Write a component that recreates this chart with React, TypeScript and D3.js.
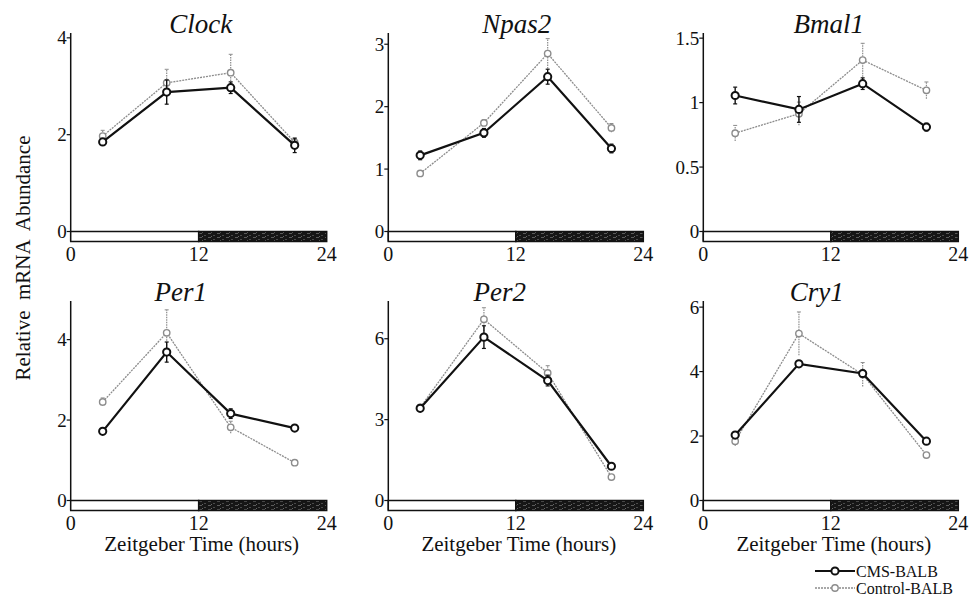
import React from "react";
import * as d3 from "d3";

const ZT = [3, 9, 15, 21];
const GENES = ["Clock", "Npas2", "Bmal1", "Per1", "Per2", "Cry1"];

const CMS_VALUES = [
  [1.85, 2.88, 2.97, 1.78],
  [1.22, 1.58, 2.48, 1.33],
  [1.055, 0.947, 1.147, 0.81],
  [1.72, 3.69, 2.16, 1.8],
  [3.42, 6.06, 4.45, 1.27],
  [2.03, 4.24, 3.94, 1.84],
];
const CMS_ERR = [
  [0.05, 0.25, 0.12, 0.15],
  [0.07, 0.07, 0.12, 0.07],
  [0.065, 0.1, 0.045, 0.03],
  [0.05, 0.25, 0.12, 0.05],
  [0.08, 0.42, 0.2, 0.08],
  [0.06, 0.05, 0.1, 0.08],
];
const CTRL_VALUES = [
  [1.97, 3.07, 3.28, 1.84],
  [0.93, 1.74, 2.85, 1.66],
  [0.763, 0.914, 1.33, 1.095],
  [2.45, 4.17, 1.82, 0.94],
  [3.45, 6.72, 4.73, 0.87],
  [1.84, 5.18, 3.91, 1.41],
];
const CTRL_ERR = [
  [0.12, 0.28, 0.38, 0.08],
  [0.04, 0.05, 0.24, 0.07],
  [0.06, 0.09, 0.13, 0.065],
  [0.1, 0.57, 0.15, 0.04],
  [0.08, 0.43, 0.27, 0.08],
  [0.15, 0.67, 0.37, 0.06],
];
const Y_MAX = [4.1, 3.18, 1.54, 4.96, 7.4, 6.19];
const Y_TICKS = [
  [0, 2, 4],
  [0, 1, 2, 3],
  [0, 0.5, 1, 1.5],
  [0, 2, 4],
  [0, 3, 6],
  [0, 2, 4, 6],
];
const X_TICKS = [0, 12, 24];
const SERIES_NAMES = ["CMS-BALB", "Control-BALB"];
const Y_TITLE = "Relative  mRNA  Abundance";
const X_TITLE = "Zeitgeber Time (hours)";

// layout
const COL_X0 = [70.7, 388.3, 703.3];
const COL_X1 = [326.7, 643.3, 958.3];
const ROW_TOP = [33, 301];
const ROW_ZERO = [231.5, 500.5];
const TITLE_DX = [2, 1, -2, -18, -16, -14];
const FONT = "Liberation Serif, Tinos, DejaVu Serif, serif";

function Panel({ i }: { i: number }) {
  const col = i % 3;
  const row = Math.floor(i / 3);
  const x = d3.scaleLinear().domain([0, 24]).range([COL_X0[col], COL_X1[col]]);
  const y = d3.scaleLinear().domain([0, Y_MAX[i]]).range([ROW_ZERO[row], ROW_TOP[row]]);
  const line = d3
    .line<number>()
    .x((_, k) => x(ZT[k]))
    .y((v) => y(v));
  const x0 = x(0);
  const x12 = x(12);
  const x24 = x(24);
  const yz = y(0);
  const barH = 10;
  const ctrlColor = "#8c8c8c";
  return (
    <g>
      <text
        x={(x0 + x24) / 2 + TITLE_DX[i]}
        y={ROW_TOP[row]}
        textAnchor="middle"
        style={{ fontFamily: FONT, fontStyle: "italic", fontSize: 27 }}
        fill="#111"
      >
        {GENES[i]}
      </text>
      <line x1={x0} x2={x0} y1={ROW_TOP[row]} y2={yz + barH} stroke="#111" strokeWidth={1.5} />
      {Y_TICKS[i].map((t) => (
        <g key={t}>
          <line x1={x0 - 4} x2={x0} y1={y(t)} y2={y(t)} stroke="#111" strokeWidth={1.2} />
          <text
            x={x0 - 4}
            y={y(t)}
            dy="0.35em"
            textAnchor="end"
            style={{ fontFamily: FONT, fontSize: 19 }}
            fill="#111"
          >
            {String(t)}
          </text>
        </g>
      ))}
      <rect x={x0} y={yz} width={x12 - x0} height={barH} fill="#fff" stroke="#111" strokeWidth={1.5} />
      <rect x={x12} y={yz} width={x24 - x12} height={barH} fill="url(#darkNoise)" stroke="#111" strokeWidth={1.5} />
      {X_TICKS.map((t) => (
        <text
          key={t}
          x={x(t)}
          y={yz + 29}
          textAnchor="middle"
          style={{ fontFamily: FONT, fontSize: 20 }}
          fill="#111"
        >
          {String(t)}
        </text>
      ))}
      {row === 1 && (
        <text
          x={(x0 + x24) / 2 + 3}
          y={551}
          textAnchor="middle"
          style={{ fontFamily: FONT, fontSize: 21 }}
          fill="#111"
        >
          {X_TITLE}
        </text>
      )}
      {ZT.map((t, k) => (
        <line
          key={"ce" + k}
          x1={x(t)}
          x2={x(t)}
          y1={y(CTRL_VALUES[i][k] - CTRL_ERR[i][k])}
          y2={y(CTRL_VALUES[i][k] + CTRL_ERR[i][k])}
          stroke={ctrlColor}
          strokeWidth={1.2}
          strokeDasharray="1.5,1"
        />
      ))}
      {ZT.map((t, k) => (
        <line
          key={"cc" + k}
          x1={x(t) - 2}
          x2={x(t) + 2}
          y1={y(CTRL_VALUES[i][k] + CTRL_ERR[i][k])}
          y2={y(CTRL_VALUES[i][k] + CTRL_ERR[i][k])}
          stroke={ctrlColor}
          strokeWidth={1}
        />
      ))}
      <path d={line(CTRL_VALUES[i]) || ""} fill="none" stroke={ctrlColor} strokeWidth={1.3} strokeDasharray="2,1" />
      {ZT.map((t, k) => (
        <circle
          key={"cp" + k}
          cx={x(t)}
          cy={y(CTRL_VALUES[i][k])}
          r={3.2}
          fill="#fff"
          stroke={ctrlColor}
          strokeWidth={1.4}
        />
      ))}
      {ZT.map((t, k) => (
        <g key={"me" + k}>
          <line
            x1={x(t)}
            x2={x(t)}
            y1={y(CMS_VALUES[i][k] - CMS_ERR[i][k])}
            y2={y(CMS_VALUES[i][k] + CMS_ERR[i][k])}
            stroke="#111"
            strokeWidth={1.4}
          />
          <line
            x1={x(t) - 2}
            x2={x(t) + 2}
            y1={y(CMS_VALUES[i][k] - CMS_ERR[i][k])}
            y2={y(CMS_VALUES[i][k] - CMS_ERR[i][k])}
            stroke="#111"
            strokeWidth={1.2}
          />
          <line
            x1={x(t) - 2}
            x2={x(t) + 2}
            y1={y(CMS_VALUES[i][k] + CMS_ERR[i][k])}
            y2={y(CMS_VALUES[i][k] + CMS_ERR[i][k])}
            stroke="#111"
            strokeWidth={1.2}
          />
        </g>
      ))}
      <path d={line(CMS_VALUES[i]) || ""} fill="none" stroke="#111" strokeWidth={2.2} />
      {ZT.map((t, k) => (
        <circle
          key={"mp" + k}
          cx={x(t)}
          cy={y(CMS_VALUES[i][k])}
          r={3.6}
          fill="#fff"
          stroke="#111"
          strokeWidth={2}
        />
      ))}
    </g>
  );
}

export default function App() {
  const lx0 = 815;
  const lx1 = 855;
  const ly = [571, 588];
  return (
    <svg
      width={970}
      height={607}
      style={{ position: "absolute", left: 0, top: 0, background: "#fff" }}
    >
      <defs>
        <pattern id="darkNoise" width="9" height="4" patternUnits="userSpaceOnUse">
          <rect width="9" height="4" fill="#161616" />
          <rect x="1" y="1" width="3" height="1" fill="#5a5a5a" />
          <rect x="6" y="3" width="2" height="1" fill="#4a4a4a" />
          <rect x="4" y="0" width="1" height="1" fill="#666" />
        </pattern>
      </defs>
      <rect width={970} height={607} fill="#fff" />
      <text
        transform={`translate(30,258) rotate(-90)`}
        textAnchor="middle"
        style={{ fontFamily: FONT, fontSize: 21, whiteSpace: "pre" }}
        fill="#111"
      >
        {Y_TITLE}
      </text>
      {GENES.map((_, i) => (
        <Panel key={i} i={i} />
      ))}
      <line x1={lx0} x2={lx1} y1={ly[0]} y2={ly[0]} stroke="#111" strokeWidth={2.2} />
      <circle cx={(lx0 + lx1) / 2} cy={ly[0]} r={3.6} fill="#fff" stroke="#111" strokeWidth={2} />
      <text x={lx1 + 1} y={ly[0]} dy="0.35em" style={{ fontFamily: FONT, fontSize: 16 }} fill="#111">
        {SERIES_NAMES[0]}
      </text>
      <line x1={lx0} x2={lx1} y1={ly[1]} y2={ly[1]} stroke="#8c8c8c" strokeWidth={1.3} strokeDasharray="2,1" />
      <circle cx={(lx0 + lx1) / 2} cy={ly[1]} r={3.2} fill="#fff" stroke="#8c8c8c" strokeWidth={1.4} />
      <text x={lx1 + 1} y={ly[1]} dy="0.35em" style={{ fontFamily: FONT, fontSize: 16 }} fill="#111">
        {SERIES_NAMES[1]}
      </text>
    </svg>
  );
}
